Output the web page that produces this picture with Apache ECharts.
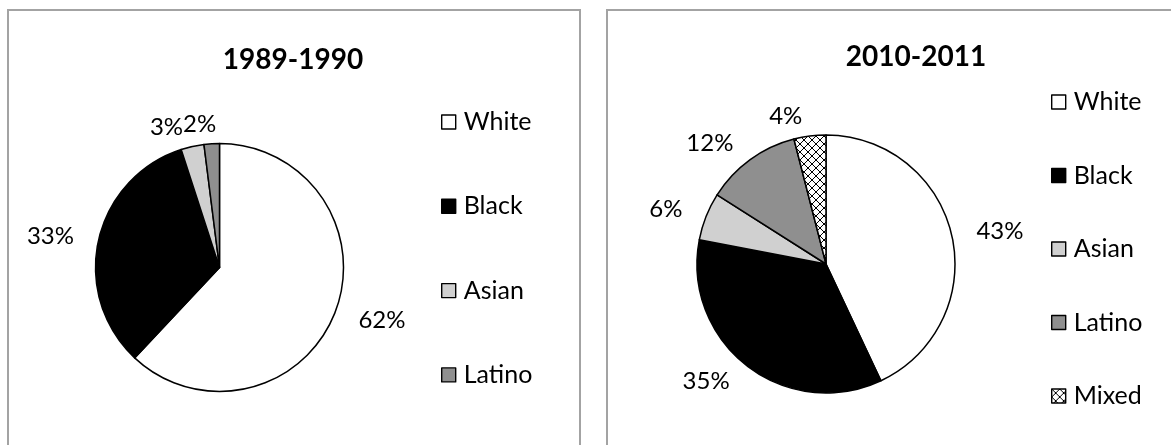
<!DOCTYPE html>
<html>
<head>
<meta charset="utf-8">
<script src="https://cdn.jsdelivr.net/npm/echarts@6/dist/echarts.min.js"></script>
<style>
  html, body { margin: 0; padding: 0; background: #ffffff; }
  #chart { width: 1171px; height: 445px; }
</style>
</head>
<body>
<div id="chart"></div>
<script>
// Enrolment share by group, two school years
const titles = ['1989-1990', '2010-2011'];
const categories1990 = ['White', 'Black', 'Asian', 'Latino'];
const values1990 = [62, 33, 3, 2];
const categories2011 = ['White', 'Black', 'Asian', 'Latino', 'Mixed'];
const values2011 = [43, 35, 6, 12, 4];

// Small repeating cross-hatch tile used for the "Mixed" slice
function crossHatch() {
  const c = document.createElement('canvas');
  c.width = 8; c.height = 8;
  const g = c.getContext('2d');
  g.fillStyle = '#ffffff';
  g.fillRect(0, 0, 8, 8);
  g.fillStyle = '#000000';
  for (let i = 0; i < 8; i++) {
    g.fillRect(i, i, 1, 1);
    g.fillRect(7 - i, i, 1, 1);
  }
  return c;
}

const fills = {
  White: '#ffffff',
  Black: '#000000',
  Asian: '#d0d0d0',
  Latino: '#8f8f8f',
  Mixed: { image: crossHatch(), repeat: 'repeat' }
};

const FONT = 'Lato, "Open Sans", sans-serif';

function pieSeries(names, values, center, radius, extra) {
  return Object.assign({
    type: 'pie',
    center: center,
    radius: radius,
    startAngle: 90,
    clockwise: true,
    avoidLabelOverlap: false,
    silent: true,
    animation: false,
    emphasis: { disabled: true },
    itemStyle: { borderColor: '#000000', borderWidth: 1.5 },
    label: {
      show: true,
      position: 'outside',
      formatter: '{c}%',
      color: '#000000',
      fontFamily: FONT,
      fontSize: 24,
      distanceToLabelLine: 5
    },
    labelLine: { show: false, length: 20, length2: 0 },
    data: names.map((n, i) => ({ name: n, value: values[i], itemStyle: { color: fills[n] } }))
  }, extra || {});
}

function legendFor(names, left, top, gap, size) {
  return {
    orient: 'vertical',
    left: left,
    top: top,
    padding: 0,
    itemGap: gap,
    itemWidth: size,
    itemHeight: size,
    icon: 'rect',
    selectedMode: false,
    data: names,
    itemStyle: { borderColor: '#000000', borderWidth: 1.4 },
    textStyle: { fontFamily: FONT, fontSize: 25, color: '#000000', padding: [0, 0, 0, 3] }
  };
}

const chart = echarts.init(document.getElementById('chart'), null, { renderer: 'canvas' });

chart.setOption({
  backgroundColor: '#ffffff',
  animation: false,
  graphic: [
    { type: 'rect', silent: true, shape: { x: 8, y: 10, width: 572, height: 470 },
      style: { fill: 'none', stroke: '#a3a3a3', lineWidth: 2 } },
    { type: 'rect', silent: true, shape: { x: 607, y: 10, width: 600, height: 470 },
      style: { fill: 'none', stroke: '#a3a3a3', lineWidth: 2 } }
  ],
  title: [
    { text: titles[0], left: 293, top: 46, textAlign: 'center', padding: 0,
      textStyle: { fontFamily: FONT, fontWeight: 'bold', fontSize: 28, color: '#000000' } },
    { text: titles[1], left: 916, top: 43, textAlign: 'center', padding: 0,
      textStyle: { fontFamily: FONT, fontWeight: 'bold', fontSize: 28, color: '#000000' } }
  ],
  legend: [
    legendFor(categories1990, 441, 109.5, 59.3, 14),
    legendFor(categories2011, 1051, 89.5, 48.5, 14)
  ],
  series: [
    pieSeries(categories1990, values1990, [219.5, 267.5], 124, { labelLayout: { moveOverlap: 'shiftX' } }),
    pieSeries(categories2011, values2011, [826, 264], 129)
  ]
});
</script>
</body>
</html>
